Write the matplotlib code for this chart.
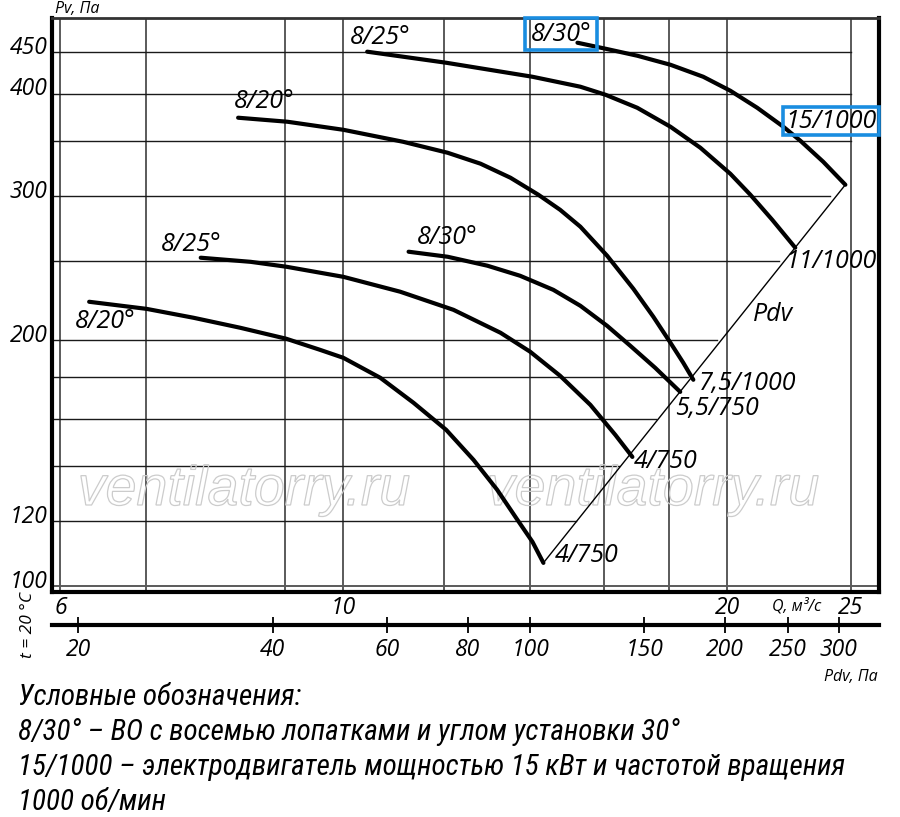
import numpy as np
import matplotlib
matplotlib.use('Agg')
import matplotlib.pyplot as plt
from matplotlib.textpath import TextPath
from matplotlib.patches import PathPatch, Rectangle
from matplotlib.font_manager import FontProperties
import matplotlib.transforms as mtransforms

COND = ['Roboto Condensed', 'Fira Sans Condensed', 'IBM Plex Sans Condensed',
        'Archivo Narrow', 'DejaVu Sans']
OPEN = ['Open Sans', 'DejaVu Sans']
plt.rcParams['font.family'] = OPEN
plt.rcParams['font.style'] = 'italic'

# fan curves: Q, m3/s and Pv, Pa
q_20_low = [6.32, 7.01, 7.63, 8.30, 9.02, 9.59, 10.0, 10.69, 11.35, 12.04, 12.65, 13.20, 13.69, 14.07, 14.35]
p_20_low = [222.6, 218.2, 212.8, 206.9, 200.6, 194.4, 190.1, 179.7, 167.5, 155.2, 142.6, 131.1, 120.5, 113.2, 106.7]
q_25_low = [7.73, 8.46, 9.02, 10.0, 11.08, 12.20, 13.28, 14.01, 14.79, 15.62, 16.34, 16.85]
p_25_low = [252.0, 249.1, 245.7, 238.8, 229.0, 217.6, 204.0, 193.4, 180.7, 166.5, 153.0, 143.8]
q_30_low = [11.25, 12.07, 12.97, 13.76, 14.61, 15.34, 16.10, 16.79, 17.56, 18.37]
p_30_low = [256.3, 252.7, 246.4, 239.5, 230.2, 220.1, 208.0, 196.6, 184.8, 172.7]
q_20_up = [8.27, 9.04, 10.0, 11.14, 12.07, 12.81, 13.52, 14.22, 14.79, 15.34, 16.10, 16.88, 17.50, 18.05, 18.47, 18.81]
p_20_up = [373.8, 369.6, 361.3, 349.3, 338.7, 328.4, 315.7, 300.9, 288.4, 275.0, 253.4, 230.9, 213.4, 198.3, 187.5, 178.7]
q_25_up = [10.44, 12.04, 14.07, 15.34, 16.05, 17.00, 18.05, 19.05, 20.11, 20.85, 21.69, 22.61]
p_25_up = [450.2, 436.4, 419.5, 407.9, 398.8, 384.4, 364.4, 343.5, 319.2, 300.9, 280.4, 259.2]
q_30_up = [15.26, 16.05, 17.00, 18.05, 19.15, 20.11, 21.11, 22.13, 22.82, 23.78, 24.75]
p_30_up = [461.7, 454.0, 445.1, 433.9, 419.5, 403.3, 384.4, 364.4, 350.3, 330.2, 309.5]

curves = [(q_20_low, p_20_low), (q_25_low, p_25_low), (q_30_low, p_30_low),
          (q_20_up, p_20_up), (q_25_up, p_25_up), (q_30_up, p_30_up)]

# Pdv line through the curve ends
pdv_q = [14.35, 24.75]
pdv_p = [106.7, 309.5]

curve_labels = ['8/20°', '8/25°', '8/20°', '8/25°', '8/30°', '8/30°',
                '15/1000', '11/1000', 'Pdv', '7,5/1000', '5,5/750', '4/750', '4/750']
label_q = [6.51, 7.60, 8.67, 10.69, 12.07, 14.82, 24.13, 24.13, 21.73, 20.74, 19.64, 17.88, 15.53]
label_p = [210.4, 261.4, 391.0, 468.3, 266.6, 472.3, 369.6, 249.1, 214.6, 176.7, 164.7, 141.8, 108.8]

grid_q = [6, 7, 9, 10, 12, 14, 16, 18, 20, 25]
grid_p = [450, 400, 350, 300, 250, 200, 180, 160, 140, 120]
yticks = [450, 400, 300, 200, 120, 100]
xticks = [6, 10, 20, 25]
pdv_ticks = [20, 40, 60, 80, 100, 150, 200, 250, 300]

legend = ['Условные обозначения:',
          '8/30° – ВО с восемью лопатками и углом установки 30°',
          '15/1000 – электродвигатель мощностью 15 кВт и частотой вращения',
          '1000 об/мин']

W, H = 900, 817
fig = plt.figure(figsize=(9, 8.17), dpi=100)
ax = fig.add_axes([52 / W, 1 - 592 / H, (879 - 52) / W, (592 - 18) / H])
ax.set_xscale('log')
ax.set_yscale('log')
QMIN, QMAX, PMIN, PMAX = 5.91, 26.3, 98.3, 495
ax.set_xlim(QMIN, QMAX)
ax.set_ylim(PMIN, PMAX)

# grid: horizontal lines stop at the Pdv line
for q in grid_q:
    ax.plot([q, q], [PMIN, PMAX], color='#5a5a5a', lw=1.4, zorder=1)
k = pdv_p[0] / pdv_q[0] ** 2
for p in grid_p:
    qe = min(25, np.sqrt(p / k))
    ax.plot([QMIN, qe], [p, p], color='#1a1a1a', lw=1.0, zorder=1)
ax.plot([QMIN, QMAX], [100, 100], color='#5a5a5a', lw=1.4, zorder=1)

for q, p in curves:
    ax.plot(q, p, color='black', lw=3, solid_capstyle='round', solid_joinstyle='round', zorder=3)
ax.plot(pdv_q, pdv_p, color='black', lw=1.0, zorder=3)

for side, s in ax.spines.items():
    s.set_linewidth(3)
ax.spines['top'].set_linewidth(2)
ax.spines['top'].set_color('#333333')
ax.set_xticks([])
ax.set_yticks([])
ax.minorticks_off()
ax.tick_params(which='both', length=0, labelleft=False, labelbottom=False)

fs = 16.5
for p in yticks:
    ax.annotate(str(p), (QMIN, p), xytext=(-3, 3), textcoords='offset points',
                ha='right', va='center', fontsize=fs)
for q in xticks:
    ax.annotate(str(q), (q, PMIN), xytext=(0, -3), textcoords='offset points',
                ha='center', va='top', fontsize=fs)
ax.annotate('Q, м³/с', (22.65, PMIN), xytext=(0, -4), textcoords='offset points',
            ha='center', va='top', fontsize=11.5)
ax.annotate('Pv, Па', (QMIN, PMAX), xytext=(2, 1), textcoords='offset points',
            ha='left', va='bottom', fontsize=11.5)

for t, q, p in zip(curve_labels, label_q, label_p):
    ax.text(q, p, t, ha='center', va='center', fontsize=18, zorder=4)

# blue highlight boxes
blue = '#1a8de0'
ax.add_patch(Rectangle((13.89, 452.7), 15.82 - 13.89, PMAX - 452.7, fill=False,
                       ec=blue, lw=2.6, zorder=5, clip_on=False))
ax.add_patch(Rectangle((22.13, 356.3), QMAX - 22.13, 385.6 - 356.3, fill=False,
                       ec=blue, lw=2.6, zorder=5, clip_on=False))

# watermark
fp = FontProperties(family=['Liberation Sans', 'DejaVu Sans'], style='italic')
for fx in [245 / W, 654 / W]:
    tp = TextPath((0, 0), 'ventilatorry.ru', size=40, prop=fp)
    bb = tp.get_extents()
    tr = (mtransforms.Affine2D().translate(-(bb.x0 + bb.width / 2), 0).scale(fig.dpi / 72)
          + mtransforms.ScaledTranslation(fx, 1 - 505 / H, fig.transFigure))
    ax.add_patch(PathPatch(tp, transform=tr, fc='none', ec='#cccccc', lw=0.9, zorder=2))

# Pdv scale
ax2 = fig.add_axes([52 / W, 1 - 625 / H, (879 - 52) / W, 0.001])
ax2.set_xscale('log')
ax2.set_xlim(18.23, 346)
for s in ['top', 'left', 'right']:
    ax2.spines[s].set_visible(False)
ax2.spines['bottom'].set_linewidth(3)
ax2.set_yticks([])
ax2.set_xticks(pdv_ticks)
ax2.set_xticklabels([str(v) for v in pdv_ticks], fontsize=fs)
ax2.minorticks_off()
ax2.tick_params(axis='x', direction='inout', length=11, width=1.3, pad=4)
ax2.set_facecolor('none')

fig.text(878 / W, 1 - 677 / H, 'Pdv, Па', ha='right', va='center', fontsize=11.5)
fig.text(28 / W, 1 - 625 / H, 't = 20 °C', ha='center', va='center', rotation=90,
         fontsize=12.5)

for i, line in enumerate(legend):
    fig.text(18 / W, 1 - (697 + i * 35) / H, line, ha='left', va='center', fontsize=21,
             family=COND)

fig.savefig('out.png', dpi=100)
